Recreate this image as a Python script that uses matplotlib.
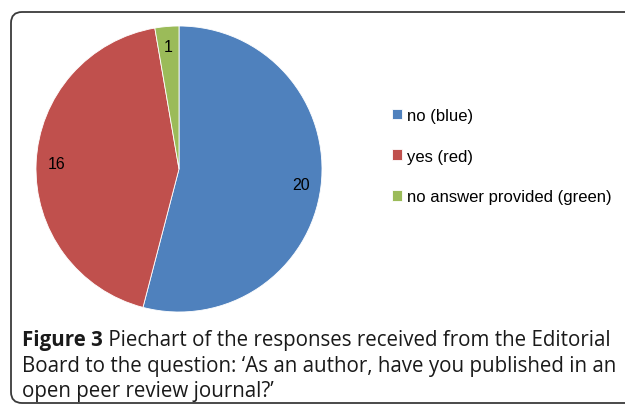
import matplotlib
matplotlib.use("Agg")
import matplotlib.pyplot as plt
from matplotlib.patches import FancyBboxPatch

labels = ["no (blue)", "yes (red)", "no answer provided (green)"]
values = [20, 16, 1]
colors = ["#4F81BD", "#C0504D", "#9BBB59"]

caption_bold = "Figure 3"
caption_lines = [
    " Piechart of the responses received from the Editorial",
    "Board to the question: \u2018As an author, have you published in an",
    "open peer review journal?\u2019",
]

W, H = 625, 410
fig = plt.figure(figsize=(W / 100, H / 100), dpi=100)
fig.patch.set_facecolor("white")

# overlay axes in pixel coords
bg = fig.add_axes([0, 0, 1, 1])
bg.set_xlim(0, W)
bg.set_ylim(H, 0)
bg.axis("off")
box = FancyBboxPatch((11, 13), 640, 391, boxstyle="round,pad=0,rounding_size=11",
                     facecolor="white", edgecolor="#3a3a3a", linewidth=1.3)
bg.add_patch(box)

cx, cy, r = 179, 170, 143
ax = fig.add_axes([(cx - r) / W, 1 - (cy + r) / H, 2 * r / W, 2 * r / H])
wedges, texts, autotexts = ax.pie(
    values, colors=colors, startangle=90, counterclock=False,
    autopct=lambda p: f"{round(p * sum(values) / 100):d}", pctdistance=0.86,
    wedgeprops=dict(linewidth=0.6, edgecolor="white"),
    textprops=dict(fontfamily="Liberation Sans", fontsize=11.5, color="black"),
)
ax.set_aspect("equal")
ax.set_xlim(-1, 1)
ax.set_ylim(-1, 1)

leg = fig.legend(wedges, labels, loc="upper left",
                 bbox_to_anchor=(385 / W, 1 - 102 / H), frameon=False,
                 prop=dict(family="Liberation Sans", size=12),
                 handlelength=0.6, handleheight=0.6, handletextpad=0.3,
                 labelspacing=1.55, borderaxespad=0)

# caption
fam = "Open Sans"
fs = 14.8
x0 = 22 / W
bases = [346, 372, 397]
t0 = fig.text(x0, 1 - bases[0] / H, caption_bold, fontfamily=fam, fontweight="bold",
              fontsize=fs, color="#1a1a1a", va="baseline")
fig.canvas.draw()
rend = fig.canvas.get_renderer()
bb = t0.get_window_extent(rend)
fig.text(bb.x1 / W, 1 - bases[0] / H, caption_lines[0], fontfamily=fam,
         fontsize=fs, color="#1a1a1a", va="baseline")
for line, b in zip(caption_lines[1:], bases[1:]):
    fig.text(x0, 1 - b / H, line, fontfamily=fam, fontsize=fs, color="#1a1a1a",
             va="baseline")

fig.savefig("out.png", dpi=100)
